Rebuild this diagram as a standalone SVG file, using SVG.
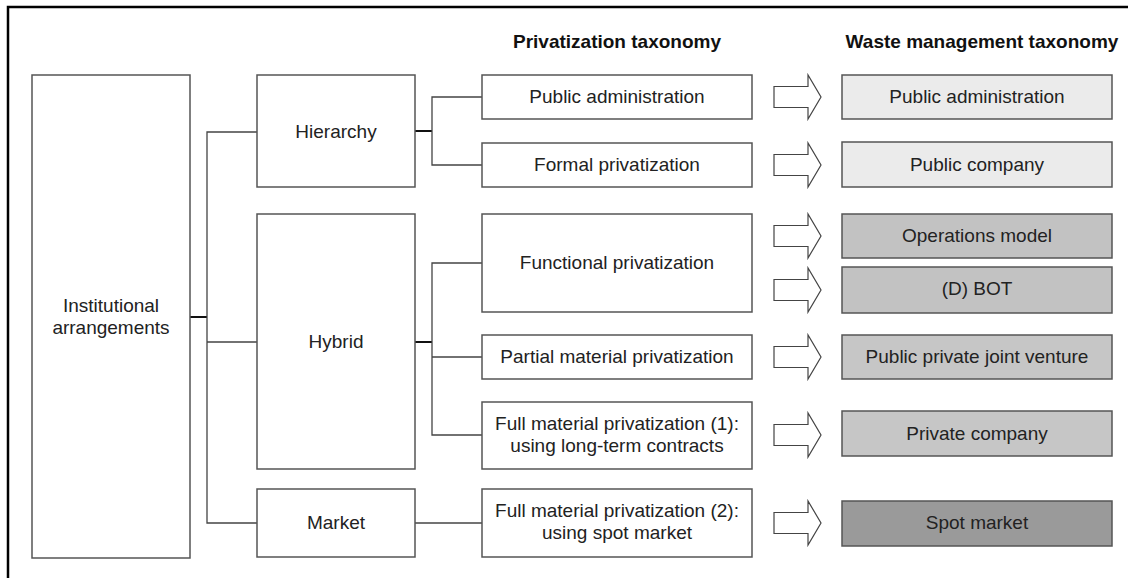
<svg xmlns="http://www.w3.org/2000/svg" width="1128" height="578" viewBox="0 0 1128 578">
<style>
.b{fill:#fff;stroke:#555;stroke-width:1.5}
.g1{fill:#ebebeb;stroke:#555;stroke-width:1.5}
.g2{fill:#c2c2c2;stroke:#555;stroke-width:1.5}
.g3{fill:#c6c6c6;stroke:#555;stroke-width:1.5}
.g4{fill:#9a9a9a;stroke:#555;stroke-width:1.5}
.t{font-family:"Liberation Sans",Arial,sans-serif;font-size:19px;fill:#222;text-anchor:middle}
.h{font-family:"Liberation Sans",Arial,sans-serif;font-size:19px;font-weight:bold;fill:#111;text-anchor:middle}
.c{fill:none;stroke:#444;stroke-width:1.3}
.k{fill:none;stroke:#111;stroke-width:2}
.a{fill:#fff;stroke:#444;stroke-width:1.2}
</style>
<defs>
<path id="arr" d="M0,-10.5 H34 V-22 L47,0 L34,22 V10.5 H0 Z"/>
</defs>
<path d="M8,578 V7 H1128" fill="none" stroke="#000" stroke-width="2.5"/>
<text class="h" x="617" y="48">Privatization taxonomy</text>
<text class="h" x="982" y="48">Waste management taxonomy</text>
<g id="connectors">
<path class="k" d="M190,317 H207"/>
<path class="c" d="M257,132 H207 V523 H257 M207,342 H257"/>
<path class="k" d="M415,131 H432"/>
<path class="c" d="M482,97 H432 V165 H482"/>
<path class="k" d="M415,342 H432"/>
<path class="c" d="M482,263 H432 V435 H482 M432,357 H482"/>
<path class="c" d="M415,523 H482"/>
</g>
<g id="arrows">
<use href="#arr" class="a" x="774" y="97"/>
<use href="#arr" class="a" x="774" y="165"/>
<use href="#arr" class="a" x="774" y="236"/>
<use href="#arr" class="a" x="774" y="290"/>
<use href="#arr" class="a" x="774" y="357"/>
<use href="#arr" class="a" x="774" y="435"/>
<use href="#arr" class="a" x="774" y="523"/>
</g>
<g id="institutional"><rect class="b" x="32" y="75" width="158" height="483"/><text class="t" x="111" y="312">Institutional</text><text class="t" x="111" y="334">arrangements</text></g>
<g id="hierarchy"><rect class="b" x="257" y="75" width="158" height="112"/><text class="t" x="336" y="138">Hierarchy</text></g>
<g id="hybrid"><rect class="b" x="257" y="214" width="158" height="255"/><text class="t" x="336" y="348">Hybrid</text></g>
<g id="market"><rect class="b" x="257" y="489" width="158" height="68"/><text class="t" x="336" y="529">Market</text></g>
<g id="p-public-admin"><rect class="b" x="482" y="75" width="270" height="44"/><text class="t" x="617" y="103">Public administration</text></g>
<g id="p-formal"><rect class="b" x="482" y="143" width="270" height="44"/><text class="t" x="617" y="171">Formal privatization</text></g>
<g id="p-functional"><rect class="b" x="482" y="214" width="270" height="98"/><text class="t" x="617" y="269">Functional privatization</text></g>
<g id="p-partial"><rect class="b" x="482" y="335" width="270" height="44"/><text class="t" x="617" y="363">Partial material privatization</text></g>
<g id="p-full1"><rect class="b" x="482" y="402" width="270" height="67"/><text class="t" x="617" y="430">Full material privatization (1):</text><text class="t" x="617" y="452">using long-term contracts</text></g>
<g id="p-full2"><rect class="b" x="482" y="489" width="270" height="68"/><text class="t" x="617" y="517">Full material privatization (2):</text><text class="t" x="617" y="539">using spot market</text></g>
<g id="w-public-admin"><rect class="g1" x="842" y="75" width="270" height="44"/><text class="t" x="977" y="103">Public administration</text></g>
<g id="w-public-company"><rect class="g1" x="842" y="142" width="270" height="45"/><text class="t" x="977" y="171">Public company</text></g>
<g id="w-operations"><rect class="g2" x="842" y="214" width="270" height="44"/><text class="t" x="977" y="242">Operations model</text></g>
<g id="w-bot"><rect class="g2" x="842" y="267" width="270" height="46"/><text class="t" x="977" y="295">(D) BOT</text></g>
<g id="w-ppjv"><rect class="g3" x="842" y="335" width="270" height="44"/><text class="t" x="977" y="363">Public private joint venture</text></g>
<g id="w-private"><rect class="g3" x="842" y="411" width="270" height="45"/><text class="t" x="977" y="440">Private company</text></g>
<g id="w-spot"><rect class="g4" x="842" y="501" width="270" height="45"/><text class="t" x="977" y="529">Spot market</text></g>
</svg>
